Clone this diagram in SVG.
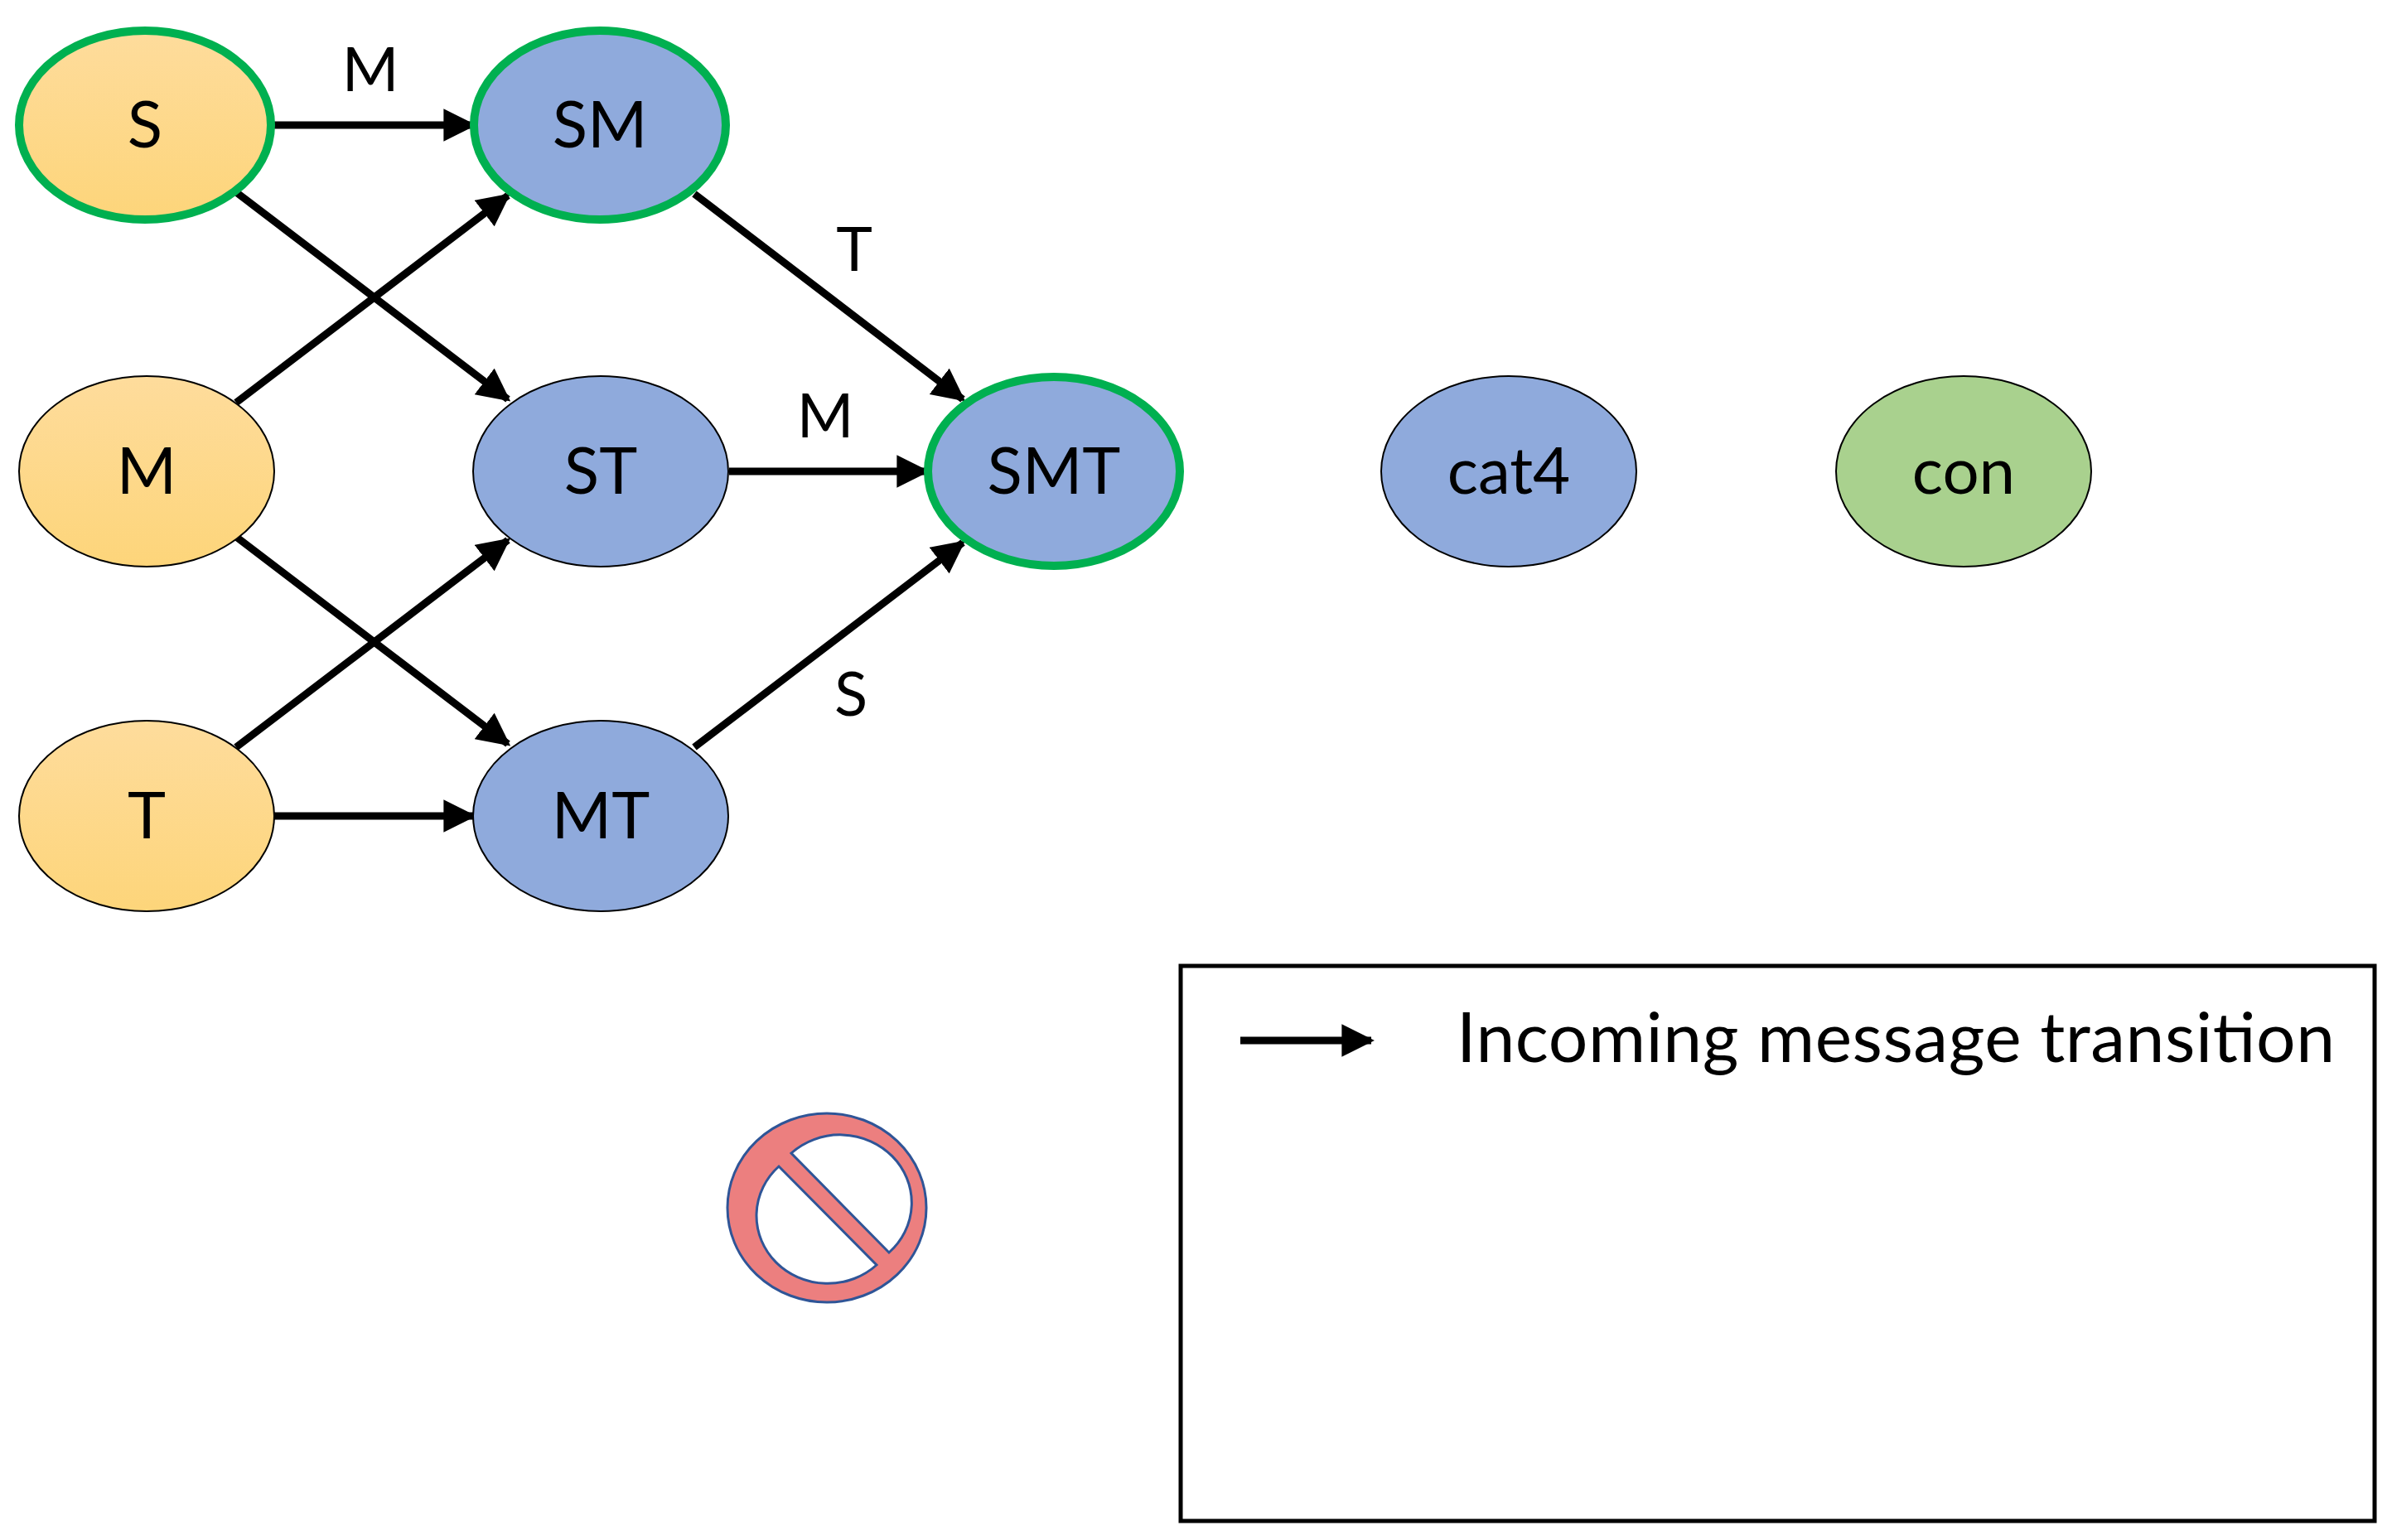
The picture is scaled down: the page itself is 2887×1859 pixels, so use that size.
<svg xmlns="http://www.w3.org/2000/svg" width="2887" height="1859" viewBox="0 0 2887 1859">
<defs>
<linearGradient id="og" x1="0" y1="0" x2="0" y2="1"><stop offset="0" stop-color="#fedc9c"/><stop offset="1" stop-color="#fdd57a"/></linearGradient>
<marker id="ah" viewBox="0 0 10 10" refX="9" refY="5" markerWidth="4.4" markerHeight="4.4" orient="auto" markerUnits="strokeWidth"><path d="M0,0 L10,5 L0,10 z" fill="#000"/></marker>
<style>
.e{stroke:#000;stroke-width:9;fill:none;marker-end:url(#ah)}
.o{fill:url(#og);stroke:#000;stroke-width:2}
.b{fill:#8faadc;stroke:#000;stroke-width:2}
.g{stroke:#00b050;stroke-width:10}
text{font-family:Lato,"Open Sans",sans-serif;fill:#000;text-anchor:middle}
.n{font-size:78px}
.l{font-size:74px}
</style>
</defs>
<rect width="2887" height="1859" fill="#fff"/>
<g id="connectors">
<line class="e" x1="331" y1="151" x2="571" y2="151"/>
<line class="e" x1="285" y1="232" x2="613" y2="482"/>
<line class="e" x1="285" y1="486" x2="613" y2="236"/>
<line class="e" x1="285" y1="648" x2="613" y2="898"/>
<line class="e" x1="285" y1="902" x2="613" y2="652"/>
<line class="e" x1="331" y1="985" x2="571" y2="985"/>
<line class="e" x1="838" y1="234" x2="1162" y2="482"/>
<line class="e" x1="880" y1="569" x2="1118" y2="569"/>
<line class="e" x1="838" y1="902" x2="1162" y2="655"/>
<text class="l" x="447" y="110">M</text>
<text class="l" x="1031" y="327">T</text>
<text class="l" x="996" y="528">M</text>
<text class="l" x="1027" y="864">S</text>
</g>
<g id="S"><ellipse class="o g" cx="175" cy="151" rx="152" ry="114"/><text class="n" x="175" y="178">S</text></g>
<g id="SM"><ellipse class="b g" cx="724" cy="151" rx="152" ry="114"/><text class="n" x="724" y="178">SM</text></g>
<g id="M"><ellipse class="o" cx="177" cy="569" rx="154" ry="115"/><text class="n" x="177" y="596">M</text></g>
<g id="ST"><ellipse class="b" cx="725" cy="569" rx="154" ry="115"/><text class="n" x="725" y="596">ST</text></g>
<g id="SMT"><ellipse class="b g" cx="1272" cy="569" rx="152" ry="114"/><text class="n" x="1272" y="596">SMT</text></g>
<g id="T"><ellipse class="o" cx="177" cy="985" rx="154" ry="115"/><text class="n" x="177" y="1012">T</text></g>
<g id="MT"><ellipse class="b" cx="725" cy="985" rx="154" ry="115"/><text class="n" x="725" y="1012">MT</text></g>
<g id="cat4"><ellipse class="b" cx="1821" cy="569" rx="154" ry="115"/><text class="n" x="1821" y="596">cat4</text></g>
<g id="con"><ellipse fill="#a9d18e" stroke="#000" stroke-width="2" cx="2370" cy="569" rx="154" ry="115"/><text class="n" x="2370" y="596">con</text></g>
<g id="nosign">
<path fill="#ec7f7f" stroke="#2f5597" stroke-width="3" fill-rule="evenodd" d="M878,1458 a120,114 0 1,0 240,0 a120,114 0 1,0 -240,0 z M940,1408 L1058,1527 A82,78 0 0,1 940,1408 z M955,1392 A82,78 0 0,1 1073,1512 z"/>
</g>
<g id="legend">
<rect x="1425" y="1166" width="1441" height="670" fill="none" stroke="#000" stroke-width="5"/>
<line class="e" x1="1497" y1="1256" x2="1655" y2="1256"/>
<text x="1758" y="1282" font-size="84" style="text-anchor:start" textLength="1060">Incoming message transition</text>
</g>
</svg>
